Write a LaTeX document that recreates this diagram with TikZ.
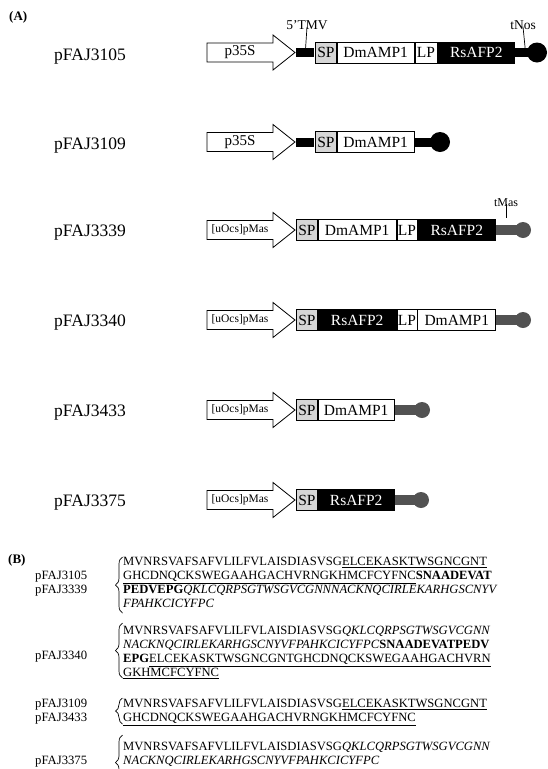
\documentclass[tikz,border=0pt]{standalone}
\usepackage{fontspec}
\setmainfont{Liberation Serif}
\usetikzlibrary{decorations.pathreplacing}
\begin{document}
\begin{tikzpicture}[x=1pt,y=-1pt,
  plbl/.style={font=\fontsize{17.5}{20}\selectfont, anchor=base west, inner sep=0},
  seg/.style={draw=black, line width=0.8pt, minimum height=21pt, inner sep=0, anchor=west, font=\fontsize{15.5}{18}\selectfont},
  spbox/.style={seg, fill=black!16, minimum width=21pt},
  wbox/.style={seg, fill=white},
  bbox/.style={seg, fill=black, text=white},
  promarrow/.style={draw=black, line width=0.8pt, fill=white},
  tmvbar/.style={fill=black, minimum width=18pt, minimum height=9pt, inner sep=0, anchor=west},
  termbarA/.style={fill=black, minimum height=9pt, inner sep=0, anchor=west},
  termbarB/.style={fill=black!68, minimum height=10pt, inner sep=0, anchor=west},
  termcircA/.style={circle, fill=black, minimum size=20pt, inner sep=0},
  termcircB/.style={circle, fill=black!68, minimum size=16pt, inner sep=0},
  toplbl/.style={font=\fontsize{13.5}{15}\selectfont, inner sep=0},
  tick/.style={line width=0.7pt},
  seqtxt/.style={font=\fontsize{12.6}{14}\selectfont, anchor=base west, inner sep=0},
  seqlbl/.style={font=\fontsize{12.7}{14}\selectfont, anchor=base west, inner sep=0},
  panel/.style={font=\bfseries\fontsize{13}{15}\selectfont, anchor=west, inner sep=0},
  brc/.style={decorate, decoration={brace, amplitude=7pt}, line width=0.7pt}
]
\useasboundingbox (0,0) rectangle (548,769);

\node[panel] (pa) at (9,17) {(A)};

% ---------- Row 1: pFAJ3105 ----------
\begin{scope}[shift={(0,52.5)}]
  \node[plbl] (n1) at (54,8.3) {pFAJ3105};
  \draw[promarrow] (207,-9.5) -- (273,-9.5) -- (273,-17.5) -- (295,0) -- (273,17.5) -- (273,9.5) -- (207,9.5) -- cycle;
  \node[font=\fontsize{15}{17}\selectfont, inner sep=0] (pr1) at (240,0) {p35S};
  \node[tmvbar] (tmv1) at (296,0) {};
  \node[spbox] (sp1) at (315,0) {SP};
  \node[wbox, minimum width=77pt] (dm1) at (sp1.east) {DmAMP1};
  \node[wbox, minimum width=22pt] (lp1) at (dm1.east) {LP};
  \node[bbox, minimum width=77pt] (rs1) at (lp1.east) {RsAFP2};
  \node[termbarA, minimum width=20pt] (tb1) at (rs1.east) {};
  \node[termcircA] (tc1) at (537,0) {};
  \node[toplbl] (tmvl) at (307,-27.5) {5’TMV};
  \draw[tick] ([yshift=3]tmvl.south) -- ([yshift=-6]tmv1.north);
  \node[toplbl] (tnos) at (523,-27.5) {tNos};
  \draw[tick] ([yshift=3]tnos.south) -- ([yshift=-3]tb1.north);
\end{scope}

% ---------- Row 2: pFAJ3109 ----------
\begin{scope}[shift={(0,142)}]
  \node[plbl] (n2) at (54,7) {pFAJ3109};
  \draw[promarrow] (207,-9.5) -- (273,-9.5) -- (273,-17.5) -- (295,0) -- (273,17.5) -- (273,9.5) -- (207,9.5) -- cycle;
  \node[font=\fontsize{15}{17}\selectfont, inner sep=0] (pr2) at (240,0) {p35S};
  \node[tmvbar] (tmv2) at (296,0) {};
  \node[spbox] (sp2) at (315,0) {SP};
  \node[wbox, minimum width=77pt] (dm2) at (sp2.east) {DmAMP1};
  \node[termbarA, minimum width=20pt] (tb2) at (dm2.east) {};
  \node[termcircA] (tc2) at (440,0) {};
\end{scope}

% ---------- Row 3: pFAJ3339 ----------
\begin{scope}[shift={(0,230)}]
  \node[plbl] (n3) at (54,6.5) {pFAJ3339};
  \draw[promarrow] (207,-9.5) -- (273,-9.5) -- (273,-17.5) -- (295,0) -- (273,17.5) -- (273,9.5) -- (207,9.5) -- cycle;
  \node[font=\fontsize{11.5}{13}\selectfont, inner sep=0] (pr3) at (240,0) {[uOcs]pMas};
  \node[spbox] (sp3) at (296,0) {SP};
  \node[wbox, minimum width=78pt] (dm3) at (sp3.east) {DmAMP1};
  \node[wbox, minimum width=20pt] (lp3) at (dm3.east) {LP};
  \node[bbox, minimum width=78pt] (rs3) at (lp3.east) {RsAFP2};
  \node[termbarB, minimum width=24pt] (tb3) at (rs3.east) {};
  \node[termcircB] (tc3) at (523,0) {};
  \node[toplbl, font=\fontsize{12}{14}\selectfont] (tmas) at (506,-27) {tMas};
  \node[coordinate] (tmasend) at (506,-12) {};
  \draw[tick] ([yshift=3]tmas.south) -- (tmasend);
\end{scope}

% ---------- Row 4: pFAJ3340 ----------
\begin{scope}[shift={(0,320)}]
  \node[plbl] (n4) at (54,6) {pFAJ3340};
  \draw[promarrow] (207,-9.5) -- (273,-9.5) -- (273,-17.5) -- (295,0) -- (273,17.5) -- (273,9.5) -- (207,9.5) -- cycle;
  \node[font=\fontsize{11.5}{13}\selectfont, inner sep=0] (pr4) at (240,0) {[uOcs]pMas};
  \node[spbox] (sp4) at (296,0) {SP};
  \node[bbox, minimum width=78pt] (rs4) at (sp4.east) {RsAFP2};
  \node[wbox, minimum width=20pt] (lp4) at (rs4.east) {LP};
  \node[wbox, minimum width=78pt] (dm4) at (lp4.east) {DmAMP1};
  \node[termbarB, minimum width=24pt] (tb4) at (dm4.east) {};
  \node[termcircB] (tc4) at (523,0) {};
\end{scope}

% ---------- Row 5: pFAJ3433 ----------
\begin{scope}[shift={(0,410)}]
  \node[plbl] (n5) at (54,6) {pFAJ3433};
  \draw[promarrow] (207,-9.5) -- (273,-9.5) -- (273,-17.5) -- (295,0) -- (273,17.5) -- (273,9.5) -- (207,9.5) -- cycle;
  \node[font=\fontsize{11.5}{13}\selectfont, inner sep=0] (pr5) at (240,0) {[uOcs]pMas};
  \node[spbox] (sp5) at (296,0) {SP};
  \node[wbox, minimum width=76pt] (dm5) at (sp5.east) {DmAMP1};
  \node[termbarB, minimum width=23pt] (tb5) at (dm5.east) {};
  \node[termcircB] (tc5) at (422,0) {};
\end{scope}

% ---------- Row 6: pFAJ3375 ----------
\begin{scope}[shift={(0,500)}]
  \node[plbl] (n6) at (54,6) {pFAJ3375};
  \draw[promarrow] (207,-9.5) -- (273,-9.5) -- (273,-17.5) -- (295,0) -- (273,17.5) -- (273,9.5) -- (207,9.5) -- cycle;
  \node[font=\fontsize{11.5}{13}\selectfont, inner sep=0] (pr6) at (240,0) {[uOcs]pMas};
  \node[spbox] (sp6) at (296,0) {SP};
  \node[bbox, minimum width=76pt] (rs6) at (sp6.east) {RsAFP2};
  \node[termbarB, minimum width=23pt] (tb6) at (rs6.east) {};
  \node[termcircB] (tc6) at (421,0) {};
\end{scope}

% ---------- Panel B ----------
\node[panel] (pb) at (8,560) {(B)};

% block 1
\node[seqlbl] (b1a) at (35,579.8) {pFAJ3105};
\node[seqlbl] (b1b) at (35,593.8) {pFAJ3339};
\draw[brc] (122.5,613) -- (122.5,557);
\node[seqtxt] (s11) at (123,565.8) {MVNRSVAFSAFVLILFVLAISDIASVSG\underline{ELCEKASKTWSGNCGNT}};
\node[seqtxt] (s12) at (123,579.8) {\underline{GHCDNQCKSWEGAAHGACHVRNGKHMCFCYFNC}\textbf{SNAADEVAT}};
\node[seqtxt] (s13) at (123,593.8) {\textbf{PEDVEPG}\textit{QKLCQRPSGTWSGVCGNNNACKNQCIRLEKARHGSCNYV}};
\node[seqtxt] (s14) at (123,607.8) {\textit{FPAHKCICYFPC}};

% block 2
\node[seqlbl] (b2a) at (35,659.3) {pFAJ3340};
\draw[brc] (122.5,678) -- (122.5,623);
\node[seqtxt] (s21) at (123,634.3) {MVNRSVAFSAFVLILFVLAISDIASVSG\textit{QKLCQRPSGTWSGVCGNN}};
\node[seqtxt] (s22) at (123,648.3) {\textit{NACKNQCIRLEKARHGSCNYVFPAHKCICYFPC}\textbf{SNAADEVATPEDV}};
\node[seqtxt] (s23) at (123,662.3) {\textbf{EPG}\underline{ELCEKASKTWSGNCGNTGHCDNQCKSWEGAAHGACHVRN}};
\node[seqtxt] (s24) at (123,676.3) {\underline{GKHMCFCYFNC}};

% block 3
\node[seqlbl] (b3a) at (35,707.8) {pFAJ3109};
\node[seqlbl] (b3b) at (35,721.8) {pFAJ3433};
\draw[brc] (122.5,724) -- (122.5,698);
\node[seqtxt] (s31) at (123,707.8) {MVNRSVAFSAFVLILFVLAISDIASVSG\underline{ELCEKASKTWSGNCGNT}};
\node[seqtxt] (s32) at (123,721.8) {\underline{GHCDNQCKSWEGAAHGACHVRNGKHMCFCYFNC}};

% block 4
\node[seqlbl] (b4a) at (35,764.8) {pFAJ3375};
\begin{scope}
  \clip (0,0) rectangle (548,769);
  \draw[brc] (122.5,790) -- (122.5,735);
\end{scope}
\node[seqtxt] (s41) at (123,750.8) {MVNRSVAFSAFVLILFVLAISDIASVSG\textit{QKLCQRPSGTWSGVCGNN}};
\node[seqtxt] (s42) at (123,764.8) {\textit{NACKNQCIRLEKARHGSCNYVFPAHKCICYFPC}};

\end{tikzpicture}
\end{document}
